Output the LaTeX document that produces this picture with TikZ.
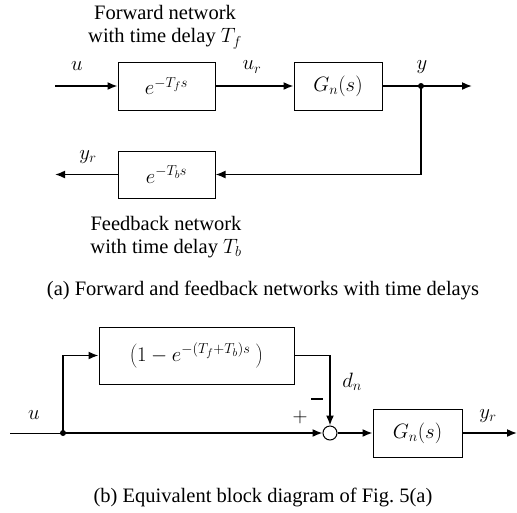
\documentclass[tikz,border=0pt]{standalone}
\usepackage{fontspec}
\setmainfont{Liberation Serif}
\usetikzlibrary{arrows.meta}

\begin{document}
\begin{tikzpicture}[x=1pt,y=-1pt,
  font=\fontsize{20.5}{23.5}\selectfont,
  blk/.style={draw, line width=1pt, inner sep=0pt},
  sig/.style={line width=1.6pt},
  arr/.style={sig, -{Latex[length=10pt,width=8pt]}},
  dotnode/.style={circle, fill, inner sep=0pt, minimum size=6pt},
  lbl/.style={inner sep=0pt},
  mlbl/.style={inner sep=0pt, font=\fontsize{22}{24}\selectfont}
]
\useasboundingbox (0,0) rectangle (517,512);

% ---- (a) forward and feedback networks ----
\node[lbl, align=center] (fwdtxt) at (165,27) {Forward network\\with time delay $T_f$};
\node[blk, mlbl, minimum width=97pt, minimum height=48pt] (fwd) at (166.5,86) {$e^{-T_f s}$};
\node[blk, mlbl, minimum width=88pt, minimum height=48pt] (plant) at (338,86) {$G_n(s)$};
\node[blk, mlbl, minimum width=97pt, minimum height=47pt] (bwd) at (166.5,174.5) {$e^{-T_b s}$};
\node[lbl, align=center] (bwdtxt) at (166,237) {Feedback network\\with time delay $T_b$};

\coordinate (uin) at (55,86);
\node[dotnode] (ydot) at (421,86) {};
\coordinate (yout) at (472,86);
\coordinate (yrout) at (55,174.5);

\draw[arr] (uin) -- (fwd.west);
\draw[arr] (fwd.east) -- (plant.west);
\draw[sig] (plant.east) -- (ydot.center);
\draw[arr] (ydot.center) -- (yout);
\draw[arr] (ydot.center) |- (bwd.east);
\draw[arr] (bwd.west) -- (yrout);

\node[mlbl] (lu) at (77,66) {$u$};
\node[mlbl] (lur) at (252,67) {$u_r$};
\node[mlbl] (ly) at (422,67) {$y$};
\node[mlbl] (lyr) at (88,157) {$y_r$};

\node[lbl] (capa) at (263,290) {(a) Forward and feedback networks with time delays};

% ---- (b) equivalent block diagram ----
\node[blk, mlbl, minimum width=195pt, minimum height=57pt] (comp) at (196.5,355.5) {$\left(1-e^{-(T_f+T_b)s}\ \right)$};
\coordinate (bin) at (10,433);
\node[dotnode] (bdot) at (63,433) {};
\node[draw, circle, line width=1pt, minimum size=14pt, inner sep=0pt] (sum) at (330,433) {};
\node[blk, mlbl, minimum width=89pt, minimum height=48pt] (plant2) at (417.5,433) {$G_n(s)$};
\coordinate (bout) at (517,433);

\draw[line width=0.8pt] (bin) -- (bdot.center);
\draw[arr] (bdot.center) |- (comp.west);
\draw[arr] (bdot.center) -- (sum.west);
\draw[arr] (comp.east) -| (sum.north);
\draw[arr] (sum.east) -- (plant2.west);
\draw[arr] (plant2.east) -- (bout);

\node[mlbl] (lu2) at (34,415) {$u$};
\node[mlbl] (ldn) at (352,382) {$d_n$};
\draw[line width=2pt] (311,399) -- (323,399);
\node[lbl] (lplus) at (300,417) {$+$};
\node[mlbl] (lyr2) at (488,416) {$y_r$};

\node[lbl] (capb) at (263,497) {(b) Equivalent block diagram of Fig.~5(a)};
\end{tikzpicture}
\end{document}
